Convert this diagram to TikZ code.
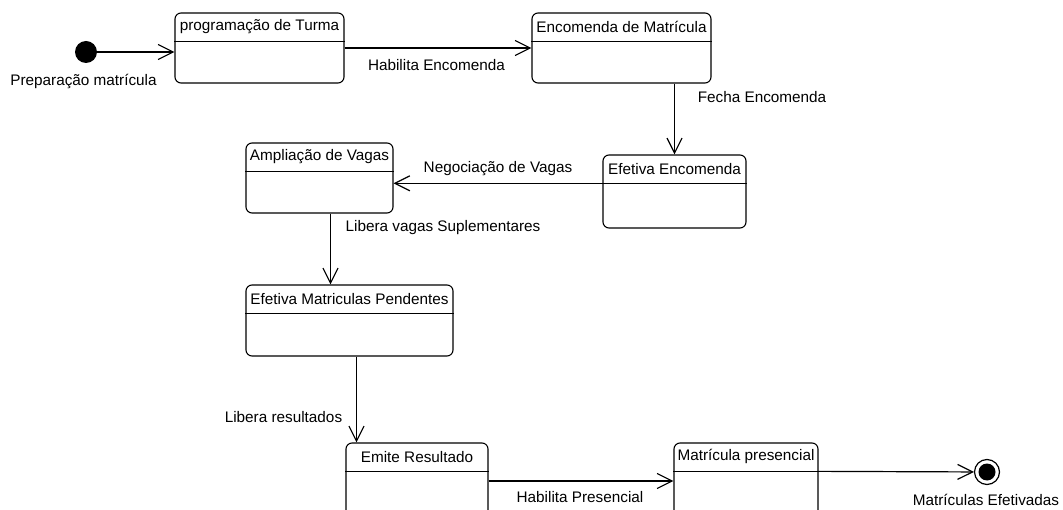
\documentclass[tikz,border=0pt]{standalone}
\usepackage{fontspec}
\setmainfont{Liberation Sans}
\usetikzlibrary{arrows.meta,positioning}

\begin{document}
\begin{tikzpicture}[
    x=1pt, y=-1pt,
    >={Straight Barb[length=15pt, width=15pt]},
    state/.style={draw, rounded corners=6pt, line width=1.1pt, inner sep=0pt},
    statetitle/.style={font=\fontsize{15.3}{18}\selectfont, inner sep=0pt, minimum height=28.5pt, anchor=north},
    annotation/.style={font=\fontsize{15.3}{18}\selectfont, inner sep=0pt},
    trans/.style={->, line width=1.2pt}
  ]
  \useasboundingbox (0,0) rectangle (1063,510);
  % States
  \foreach \n/\cx/\cy/\w/\h/\t in {
      turma/259.5/48/169/70/programação de Turma,
      encomenda/621.5/48/179/70/Encomenda de Matrícula,
      efetiva/674.5/191.5/143/73/Efetiva Encomenda,
      ampliacao/319.5/178/147/70/Ampliação de Vagas,
      pendentes/349.5/320.5/207/71/Efetiva Matriculas Pendentes,
      emite/417/483/142/80/Emite Resultado,
      presencial/746/483/144/80/Matrícula presencial} {
    \node[state, minimum width=\w pt, minimum height=\h pt] (\n) at (\cx,\cy) {};
    \node[statetitle] (\n h) at (\n.north) {\t};
    \draw[line width=1.1pt] (\n h.south -| \n.west) -- (\n h.south -| \n.east);
  }
  % Initial and final states
  \node[circle, fill, minimum size=22pt, inner sep=0pt] (init) at (86,52) {};
  \node[circle, draw, line width=1.2pt, minimum size=25pt, inner sep=0pt] (final) at (987,472) {};
  \node[circle, fill, minimum size=17pt, inner sep=0pt] (finaldot) at (final) {};
  % Transitions
  \draw[trans] (init) -- (init -| turma.west);
  \draw[trans] (turma.east) -- (encomenda.west);
  \draw[trans] (efetiva.north |- encomenda.south) -- (efetiva.north);
  \draw[trans] (efetivah.south -| efetiva.west) -- (efetivah.south -| ampliacao.east);
  \draw[trans] ([xshift=11pt]ampliacao.south) -- ([xshift=11pt]ampliacao.south |- pendentes.north);
  \draw[trans] ([xshift=7pt]pendentes.south) -- ([xshift=7pt]pendentes.south |- emite.north);
  \draw[trans] ([yshift=2pt]emite.east) -- ([yshift=2pt]emite.east -| presencial.west);
  \draw[trans] (presencialh.south -| presencial.east) -- (final);
  % Labels
  \node[annotation] (lprep) at (83.5,81) {Preparação matrícula};
  \node[annotation] (lhabenc) at (436.5,65) {Habilita Encomenda};
  \node[annotation] (lfecha) at (762,97) {Fecha Encomenda};
  \node[annotation] (lneg) at (498,169) {Negociação de Vagas};
  \node[annotation] (llibvag) at (443,228) {Libera vagas Suplementares};
  \node[annotation] (llibres) at (283.5,417) {Libera resultados};
  \node[annotation] (lhabpres) at (580,497) {Habilita Presencial};
  \node[annotation] (lfinal) at (986,500) {Matrículas Efetivadas};
\end{tikzpicture}
\end{document}
